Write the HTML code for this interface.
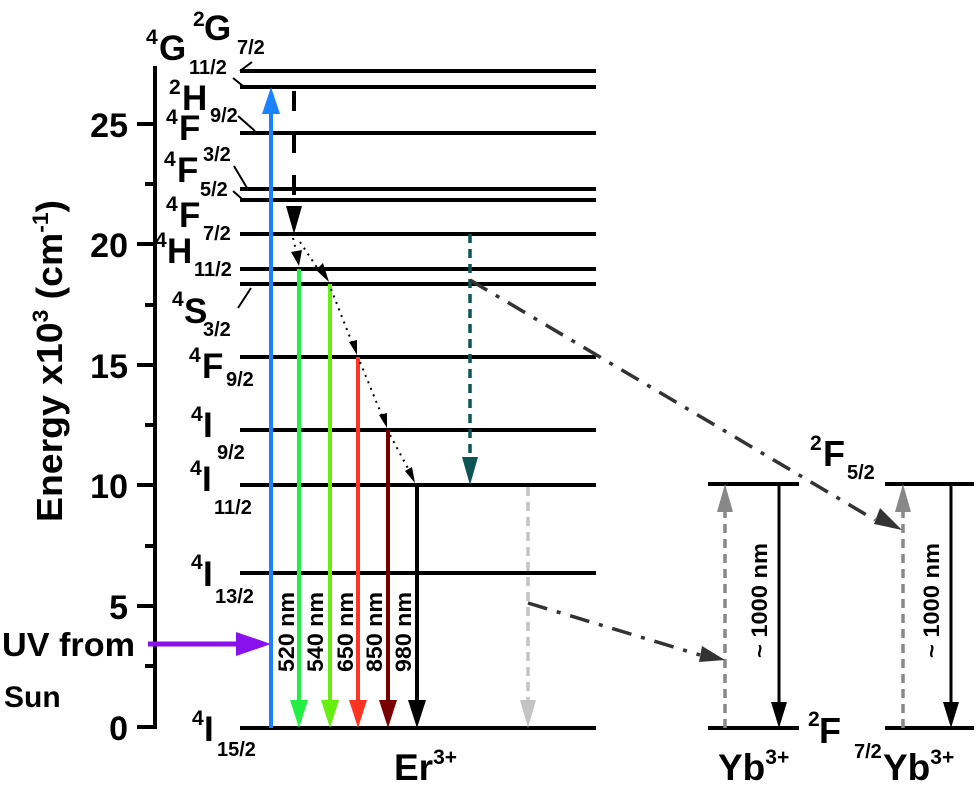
<!DOCTYPE html>
<html><head><meta charset="utf-8"><style>
html,body{margin:0;padding:0;background:#fff}
svg{display:block}
text{font-family:"Liberation Sans",Arial,sans-serif;font-weight:bold;fill:#000}
</style></head><body>
<svg width="977" height="786" viewBox="0 0 977 786" xmlns="http://www.w3.org/2000/svg">
<!-- axis -->
<g stroke="#000" stroke-width="4">
<line x1="155" y1="66" x2="155" y2="729"/>
<line x1="137" y1="727" x2="155" y2="727"/>
<line x1="137" y1="606" x2="155" y2="606"/>
<line x1="137" y1="485" x2="155" y2="485"/>
<line x1="137" y1="365" x2="155" y2="365"/>
<line x1="137" y1="244" x2="155" y2="244"/>
<line x1="137" y1="124" x2="155" y2="124"/>
<line x1="145" y1="666" x2="155" y2="666"/>
<line x1="145" y1="546" x2="155" y2="546"/>
<line x1="145" y1="425" x2="155" y2="425"/>
<line x1="145" y1="305" x2="155" y2="305"/>
<line x1="145" y1="184" x2="155" y2="184"/>
</g>
<g font-size="34" text-anchor="end">
<text x="128" y="740">0</text>
<text x="128" y="619">5</text>
<text x="128" y="498">10</text>
<text x="128" y="378">15</text>
<text x="128" y="257">20</text>
<text x="128" y="137">25</text>
</g>
<text transform="translate(62,522) rotate(-90)" font-size="36" textLength="322" lengthAdjust="spacingAndGlyphs">Energy x10<tspan font-size="22" dy="-14">3</tspan><tspan dy="14"> (cm</tspan><tspan font-size="22" dy="-14">-1</tspan><tspan dy="14">)</tspan></text>
<text x="2" y="656" font-size="33" textLength="133" lengthAdjust="spacingAndGlyphs">UV from</text>
<text x="4" y="707" font-size="30">Sun</text>
<!-- Er levels -->
<g stroke="#000" stroke-width="4">
<line x1="240" y1="71" x2="596" y2="71"/>
<line x1="240" y1="87" x2="596" y2="87"/>
<line x1="240" y1="133" x2="596" y2="133"/>
<line x1="240" y1="189" x2="596" y2="189"/>
<line x1="240" y1="200" x2="596" y2="200"/>
<line x1="240" y1="234" x2="596" y2="234"/>
<line x1="240" y1="269" x2="596" y2="269"/>
<line x1="240" y1="284" x2="596" y2="284"/>
<line x1="240" y1="357" x2="596" y2="357"/>
<line x1="240" y1="430" x2="596" y2="430"/>
<line x1="240" y1="485" x2="596" y2="485"/>
<line x1="240" y1="573" x2="596" y2="573"/>
<line x1="240" y1="728" x2="596" y2="728"/>
<line x1="708" y1="484" x2="799" y2="484"/>
<line x1="708" y1="728" x2="799" y2="728"/>
<line x1="885" y1="484" x2="974" y2="484"/>
<line x1="885" y1="728" x2="974" y2="728"/>
</g>
<g stroke="#000" stroke-width="2" fill="none">
<path d="M240,71 L252,62"/>
<path d="M233,78 L243,86"/>
<path d="M238,116 L255,131"/>
<path d="M234,166 L247,188"/>
<path d="M233,191 L242,199"/>
<path d="M251,288 L238,308"/>
</g>
<g font-size="35">
<text x="159" y="60">G</text><text x="146" y="44" font-size="21">4</text>
<text x="204" y="40">G</text><text x="193" y="26" font-size="21">2</text>
<text x="182" y="110">H</text><text x="169" y="94" font-size="21">2</text>
<text x="179" y="140">F</text><text x="166" y="124" font-size="21">4</text>
<text x="177" y="182">F</text><text x="164" y="166" font-size="21">4</text>
<text x="179" y="227">F</text><text x="166" y="211" font-size="21">4</text>
<text x="167" y="263">H</text><text x="155" y="247" font-size="21">4</text>
<text x="184" y="323">S</text><text x="172" y="306" font-size="21">4</text>
<text x="202" y="378">F</text><text x="189" y="362" font-size="21">4</text>
<text x="203" y="437">I</text><text x="191" y="421" font-size="21">4</text>
<text x="202" y="491">I</text><text x="190" y="475" font-size="21">4</text>
<text x="203" y="586">I</text><text x="191" y="569" font-size="21">4</text>
<text x="204" y="741">I</text><text x="192" y="725" font-size="21">4</text>
</g>
<g font-size="20">
<text x="237" y="54">7/2</text>
<text x="189" y="74">11/2</text>
<text x="210" y="122">9/2</text>
<text x="203" y="161">3/2</text>
<text x="200" y="196">5/2</text>
<text x="203" y="240">7/2</text>
<text x="194" y="276">11/2</text>
<text x="203" y="336">3/2</text>
<text x="226" y="386">9/2</text>
<text x="217" y="459">9/2</text>
<text x="214" y="514">11/2</text>
<text x="215" y="603">13/2</text>
<text x="217" y="756">15/2</text>
</g>
<g stroke-width="4" fill="none">
<line x1="271" y1="728" x2="271" y2="110" stroke="#1a82ff"/>
<line x1="299" y1="269" x2="299" y2="705" stroke="#22ee44"/>
<line x1="330" y1="284" x2="330" y2="705" stroke="#66ee11"/>
<line x1="358" y1="357" x2="358" y2="705" stroke="#ff3322"/>
<line x1="388" y1="430" x2="388" y2="705" stroke="#7a0000"/>
<line x1="417" y1="485" x2="417" y2="705" stroke="#000"/>
<line x1="148" y1="644" x2="240" y2="644" stroke="#8811ee" stroke-width="5"/>
<line x1="294" y1="91" x2="294" y2="210" stroke="#000" stroke-dasharray="20,22"/>
<line x1="470" y1="234" x2="470" y2="460" stroke="#0d5555" stroke-width="3.5" stroke-dasharray="9,6"/>
<line x1="528" y1="487" x2="528" y2="705" stroke="#c4c4c4" stroke-width="3.5" stroke-dasharray="9,6"/>
<line x1="725" y1="728" x2="725" y2="510" stroke="#888" stroke-width="3.5" stroke-dasharray="9,6"/>
<line x1="903" y1="728" x2="903" y2="510" stroke="#888" stroke-width="3.5" stroke-dasharray="9,6"/>
<line x1="779" y1="484" x2="779" y2="705" stroke="#000" stroke-width="3"/>
<line x1="951" y1="484" x2="951" y2="705" stroke="#000" stroke-width="3"/>
</g>
<g stroke="#000" stroke-width="2" fill="none" stroke-dasharray="2,5">
<line x1="293" y1="238" x2="297" y2="255"/>
<line x1="300" y1="242" x2="320" y2="272"/>
<line x1="331" y1="289" x2="353" y2="345"/>
<line x1="360" y1="362" x2="383" y2="418"/>
<line x1="390" y1="435" x2="410" y2="472"/>
</g>
<g stroke="#333" stroke-width="3.5" fill="none" stroke-dasharray="20,10,4,10">
<line x1="470" y1="280" x2="875" y2="520"/>
<line x1="528" y1="603" x2="700" y2="655"/>
</g>
<g>
<polygon points="271,87 262,114 280,114" fill="#1a82ff"/>
<polygon points="299,728 290,700 308,700" fill="#22ee44"/>
<polygon points="330,728 321,700 339,700" fill="#66ee11"/>
<polygon points="358,728 349,700 367,700" fill="#ff3322"/>
<polygon points="388,728 379,700 397,700" fill="#7a0000"/>
<polygon points="417,728 408,700 426,700" fill="#000"/>
<polygon points="271,644 236,632 236,656" fill="#8811ee"/>
<polygon points="294,234 286,206 302,206" fill="#000"/>
<polygon points="470,485 462,457 478,457" fill="#0d5555"/>
<polygon points="528,728 520,700 536,700" fill="#c4c4c4"/>
<polygon points="725,484 717,512 733,512" fill="#888"/>
<polygon points="903,484 895,512 911,512" fill="#888"/>
<polygon points="779,728 771,702 787,702" fill="#000"/>
<polygon points="951,728 943,702 959,702" fill="#000"/>
<polygon points="299,266 291,252 302,250" fill="#000"/>
<polygon points="329,282 316,270 323,263" fill="#000"/>
<polygon points="357,355 349,342 357,340" fill="#000"/>
<polygon points="387,428 379,415 387,413" fill="#000"/>
<polygon points="415,483 405,471 412,467" fill="#000"/>
<polygon points="902,530 880,508 874,524" fill="#333"/>
<polygon points="725,660 702,646 699,662" fill="#333"/>
</g>
<g font-size="22">
<text transform="translate(294,672) rotate(-90)" textLength="80" lengthAdjust="spacingAndGlyphs">520 nm</text>
<text transform="translate(323,672) rotate(-90)" textLength="80" lengthAdjust="spacingAndGlyphs">540 nm</text>
<text transform="translate(353,672) rotate(-90)" textLength="80" lengthAdjust="spacingAndGlyphs">650 nm</text>
<text transform="translate(382,672) rotate(-90)" textLength="80" lengthAdjust="spacingAndGlyphs">850 nm</text>
<text transform="translate(411,672) rotate(-90)" textLength="80" lengthAdjust="spacingAndGlyphs">980 nm</text>
<text transform="translate(767,658) rotate(-90)" textLength="115" lengthAdjust="spacingAndGlyphs">~ 1000 nm</text>
<text transform="translate(939,658) rotate(-90)" textLength="115" lengthAdjust="spacingAndGlyphs">~ 1000 nm</text>
</g>
<text x="394" y="780" font-size="37">Er<tspan font-size="21" dy="-16">3+</tspan></text>
<text x="718" y="780" font-size="37">Yb<tspan font-size="21" dy="-16">3+</tspan></text>
<text x="883" y="780" font-size="37">Yb<tspan font-size="21" dy="-16">3+</tspan></text>
<text x="819" y="743" font-size="36">F</text><text x="808" y="726" font-size="21">2</text>
<text x="854" y="758" font-size="20">7/2</text>
<text x="823" y="466" font-size="36">F</text><text x="810" y="450" font-size="21">2</text>
<text x="847" y="479" font-size="20">5/2</text>
</svg>
</body></html>
